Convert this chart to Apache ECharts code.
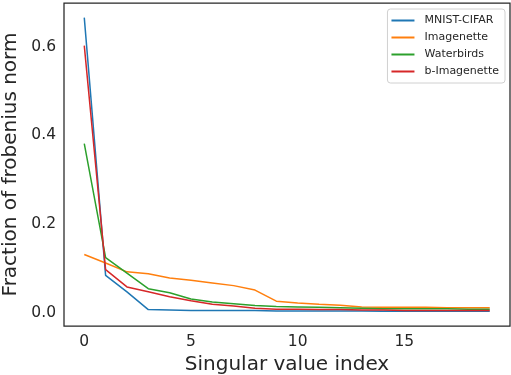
<!DOCTYPE html>
<html>
<head>
<meta charset="utf-8">
<title>Singular values</title>
<style>
  html, body { margin: 0; padding: 0; background: #fff; }
  #main { width: 511px; height: 375px; }
</style>
</head>
<body>
<div id="main"></div>
<script src="https://cdn.jsdelivr.net/npm/echarts@6/dist/echarts.min.js"></script>
<script>
var seriesNames = ['MNIST-CIFAR', 'Imagenette', 'Waterbirds', 'b-Imagenette'];
var seriesColors = ['#1f77b4', '#ff7f0e', '#2ca02c', '#d62728'];

var mnistCifar = [0.665, 0.084, 0.047, 0.007, 0.006, 0.005, 0.005, 0.005, 0.005, 0.004,
                  0.004, 0.004, 0.004, 0.004, 0.003, 0.003, 0.003, 0.003, 0.003, 0.003];
var imagenette = [0.131, 0.112, 0.092, 0.088, 0.078, 0.073, 0.067, 0.061, 0.051, 0.026,
                  0.022, 0.019, 0.017, 0.013, 0.012, 0.012, 0.012, 0.011, 0.011, 0.011];
var waterbirds = [0.381, 0.124, 0.089, 0.054, 0.045, 0.031, 0.024, 0.020, 0.016, 0.014,
                  0.013, 0.012, 0.011, 0.010, 0.009, 0.009, 0.009, 0.009, 0.008, 0.008];
var bImagenette = [0.602, 0.097, 0.058, 0.047, 0.036, 0.027, 0.019, 0.015, 0.010, 0.008,
                   0.008, 0.007, 0.007, 0.006, 0.006, 0.005, 0.005, 0.005, 0.005, 0.005];

var allValues = [mnistCifar, imagenette, waterbirds, bImagenette];

var textColor = '#262626';
var font = 'DejaVu Sans';

function toPairs(vals) {
    return vals.map(function (v, i) { return [i, v]; });
}

var series = [];
for (var i = 0; i < seriesNames.length; i++) {
    series.push({
        name: seriesNames[i],
        type: 'line',
        data: toPairs(allValues[i]),
        symbol: 'none',
        color: seriesColors[i],
        lineStyle: { width: 1.5, color: seriesColors[i] },
        z: 2 + i
    });
}

// labels only on multiples of step (ticks are fine-grained so min lines up)
function onStep(v, step) {
    return Math.abs(v - Math.round(v / step) * step) < 1e-6;
}

var chart = echarts.init(document.getElementById('main'), null, { renderer: 'canvas' });
chart.setOption({
    animation: false,
    backgroundColor: '#fff',
    grid: {
        left: 64, right: 1, top: 3, bottom: 49,
        outerBoundsMode: 'none',
        containLabel: false,
        show: true,
        borderColor: '#262626',
        borderWidth: 1.25,
        backgroundColor: '#fff'
    },
    legend: {
        orient: 'vertical',
        right: 6,
        top: 9,
        padding: [5, 6, 5, 4],
        icon: 'rect',
        itemWidth: 23,
        itemHeight: 2,
        itemGap: 4,
        backgroundColor: '#fff',
        borderColor: '#d0d0d0',
        borderWidth: 1,
        borderRadius: 3,
        textStyle: { fontFamily: font, fontSize: 11, color: textColor, padding: [0, 0, 0, 5], lineHeight: 13 },
        data: seriesNames
    },
    xAxis: {
        type: 'value',
        min: -0.95,
        max: 19.95,
        interval: 0.05,
        name: 'Singular value index',
        nameLocation: 'middle',
        nameGap: 27,
        nameTextStyle: { fontFamily: font, fontSize: 20, color: textColor },
        axisLine: { show: false },
        axisTick: { show: false },
        splitLine: { show: false },
        axisLabel: {
            interval: 0,
            hideOverlap: false,
            fontFamily: font, fontSize: 15.5, color: textColor, margin: 8,
            formatter: function (v) {
                return onStep(v, 5) ? String(Math.round(v)) : '';
            }
        }
    },
    yAxis: {
        type: 'value',
        min: -0.03,
        max: 0.698,
        interval: 0.001,
        name: 'Fraction of frobenius norm',
        nameLocation: 'middle',
        nameGap: 39,
        nameTextStyle: { fontFamily: font, fontSize: 20, color: textColor },
        axisLine: { show: false },
        axisTick: { show: false },
        splitLine: { show: false },
        axisLabel: {
            interval: 0,
            hideOverlap: false,
            fontFamily: font, fontSize: 15.5, color: textColor, margin: 8,
            formatter: function (v) {
                return onStep(v, 0.2) ? (Math.round(v * 10) / 10).toFixed(1) : '';
            }
        }
    },
    series: series
});
</script>
</body>
</html>
